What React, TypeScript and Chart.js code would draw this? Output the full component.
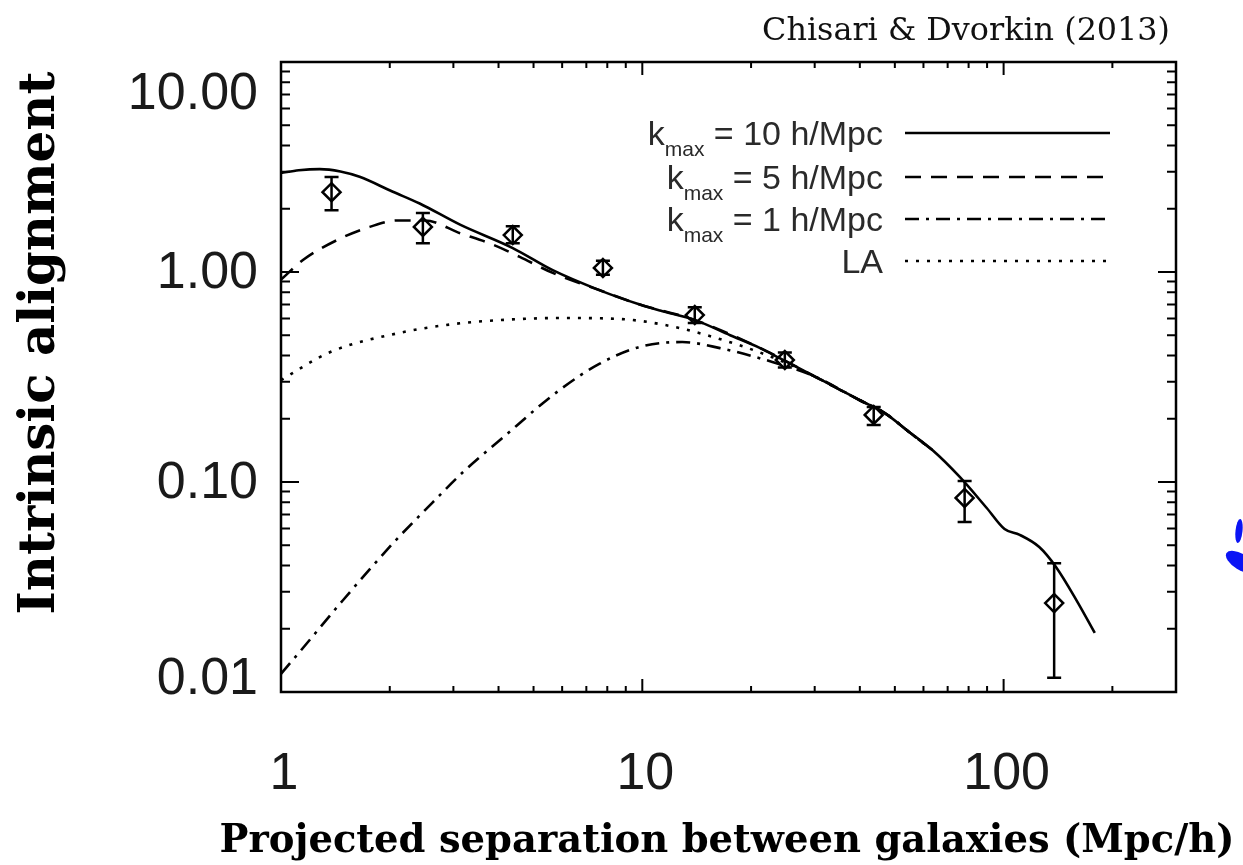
import React, { useEffect, useRef } from 'react';
import { Chart, registerables } from 'chart.js';

Chart.register(...registerables);

const W = 1243;
const H = 865;

// Measured intrinsic alignment signal (diamonds) with error bars
const obsR = [1.38, 2.47, 4.38, 7.78, 13.97, 24.8, 43.7, 78.0, 138];
const obsW = [2.4, 1.64, 1.5, 1.045, 0.624, 0.381, 0.2085, 0.084, 0.0265];
const obsHi = [2.83, 1.91, 1.65, 1.13, 0.68, 0.414, 0.2275, 0.101, 0.041];
const obsLo = [1.97, 1.37, 1.37, 0.97, 0.572, 0.351, 0.1868, 0.0645, 0.0117];

// Model with k_max = 10 h/Mpc
const k10R = [1.0, 1.12, 1.28, 1.46, 1.65, 2.04, 2.42, 3.13, 4.38, 5.65, 7.6, 9.84, 11.2, 14, 17.5, 21.2, 24, 30, 35, 40, 46.9, 55, 63.5, 75.5, 89.8, 100.6, 110.8, 125.5, 139.6, 159, 178.8];
const k10W = [2.96, 3.05, 3.09, 3.01, 2.84, 2.41, 2.12, 1.68, 1.3, 1.02, 0.82, 0.7, 0.655, 0.59, 0.5, 0.434, 0.389, 0.318, 0.277, 0.245, 0.213, 0.172, 0.142, 0.106, 0.0752, 0.0597, 0.056, 0.049, 0.0394, 0.0274, 0.0191];

// Model with k_max = 5 h/Mpc
const k5R = [1.0, 1.15, 1.43, 1.76, 2.1, 2.5, 3.13, 3.86, 4.58, 5.65, 7.6, 9.84, 14, 21.2, 30, 40, 46.9, 55, 63.5];
const k5W = [0.92, 1.14, 1.42, 1.64, 1.76, 1.76, 1.53, 1.35, 1.18, 0.99, 0.82, 0.7, 0.59, 0.434, 0.318, 0.245, 0.213, 0.172, 0.142];

// Model with k_max = 1 h/Mpc
const k1R = [1.0, 1.15, 1.48, 2.04, 2.63, 3.2, 4.03, 5.9, 7.6, 9.84, 12.9, 16.4, 22.9, 30, 40, 46.9, 55, 63.5];
const k1W = [0.0122, 0.0162, 0.0272, 0.051, 0.08, 0.112, 0.158, 0.274, 0.365, 0.44, 0.464, 0.434, 0.373, 0.318, 0.245, 0.213, 0.172, 0.142];

// Linear alignment model
const laR = [1.0, 1.37, 2.13, 3.0, 4.03, 5.9, 8.7, 11.2, 15.1, 22.9, 30, 40, 46.9, 55, 63.5];
const laW = [0.306, 0.416, 0.513, 0.565, 0.59, 0.604, 0.597, 0.565, 0.5, 0.393, 0.318, 0.245, 0.213, 0.172, 0.142];

const xTickValues = [1, 10, 100];
const xTickLabels = ['1', '10', '100'];
const yTickValues = [0.01, 0.1, 1, 10];
const yTickLabels = ['0.01', '0.10', '1.00', '10.00'];

const legendHasK = [true, true, true, false];
const legendNames = ['= 10 h/Mpc', '= 5 h/Mpc', '= 1 h/Mpc', 'LA'];

const xTitle = 'Projected separation between galaxies (Mpc/h)';
const yTitle = 'Intrinsic alignment';
const credit = 'Chisari & Dvorkin (2013)';

const pts = (xs: number[], ys: number[]) => xs.map((x, i) => ({ x, y: ys[i] }));

const SANS = '"Liberation Sans", Arial, sans-serif';
const SERIF = '"DejaVu Serif", serif';

function fitFont(ctx: CanvasRenderingContext2D, text: string, weight: string, family: string, width: number) {
  ctx.font = `${weight} 100px ${family}`;
  const w = ctx.measureText(text).width;
  return (100 * width) / w;
}

const decorPlugin = {
  id: 'decor',
  beforeDraw(chart: any) {
    const ctx = chart.ctx;
    ctx.save();
    ctx.fillStyle = '#ffffff';
    ctx.fillRect(0, 0, chart.width, chart.height);
    ctx.restore();
  },
  afterDatasetsDraw(chart: any) {
    const ctx: CanvasRenderingContext2D = chart.ctx;
    const xs = chart.scales.x;
    const ys = chart.scales.y;
    ctx.save();
    ctx.strokeStyle = '#000';
    ctx.lineWidth = 2.5;
    ctx.setLineDash([]);
    obsR.forEach((r, i) => {
      const px = xs.getPixelForValue(r);
      const yTop = ys.getPixelForValue(obsHi[i]);
      const yBot = ys.getPixelForValue(obsLo[i]);
      ctx.beginPath();
      ctx.moveTo(px, yTop);
      ctx.lineTo(px, yBot);
      ctx.moveTo(px - 7, yTop);
      ctx.lineTo(px + 7, yTop);
      ctx.moveTo(px - 7, yBot);
      ctx.lineTo(px + 7, yBot);
      ctx.stroke();
    });
    ctx.restore();
  },
  afterDraw(chart: any) {
    const ctx: CanvasRenderingContext2D = chart.ctx;
    const xs = chart.scales.x;
    const ys = chart.scales.y;
    const a = chart.chartArea;
    ctx.save();
    ctx.setLineDash([]);
    ctx.strokeStyle = '#000';

    // frame
    ctx.lineWidth = 2.5;
    ctx.strokeRect(a.left, a.top, a.right - a.left, a.bottom - a.top);

    // inward ticks on all four sides
    ctx.lineWidth = 2;
    ctx.beginPath();
    for (const d of [1, 10, 100]) {
      for (let m = 1; m <= 9; m++) {
        const v = m * d;
        if (v > xs.max) continue;
        const px = xs.getPixelForValue(v);
        const len = m === 1 ? 13 : 6;
        ctx.moveTo(px, a.bottom);
        ctx.lineTo(px, a.bottom - len);
        ctx.moveTo(px, a.top);
        ctx.lineTo(px, a.top + len);
      }
    }
    for (const d of [0.01, 0.1, 1, 10]) {
      for (let m = 1; m <= 9; m++) {
        const v = m * d;
        if (v > ys.max * 1.0001) continue;
        const py = ys.getPixelForValue(v);
        const len = m === 1 ? 18 : 9;
        ctx.moveTo(a.left, py);
        ctx.lineTo(a.left + len, py);
        ctx.moveTo(a.right, py);
        ctx.lineTo(a.right - len, py);
      }
    }
    ctx.stroke();

    // tick labels
    ctx.fillStyle = '#1a1a1a';
    ctx.font = `52px ${SANS}`;
    ctx.textAlign = 'center';
    ctx.textBaseline = 'alphabetic';
    xTickValues.forEach((v, i) => {
      ctx.fillText(xTickLabels[i], xs.getPixelForValue(v) + 3, a.bottom + 97);
    });
    ctx.textAlign = 'right';
    ctx.textBaseline = 'middle';
    yTickValues.forEach((v, i) => {
      const py = Math.min(Math.max(ys.getPixelForValue(v), a.top + 31), a.bottom - 14);
      ctx.fillText(yTickLabels[i], a.left - 23, py + 2);
    });

    // legend
    const rowBase = [145, 189, 231, 273];
    const datasets = chart.data.datasets.slice(1);
    datasets.forEach((ds: any, i: number) => {
      const base = rowBase[i];
      ctx.fillStyle = '#2a2a2a';
      ctx.textBaseline = 'alphabetic';
      ctx.textAlign = 'left';
      ctx.font = `34px ${SANS}`;
      const main = ' ' + legendNames[i];
      if (legendHasK[i]) {
        const wMain = ctx.measureText(main).width;
        const wK = ctx.measureText('k').width;
        ctx.font = `21px ${SANS}`;
        const wSub = ctx.measureText('max').width;
        let x = 883 - wMain - wK - wSub;
        ctx.font = `34px ${SANS}`;
        ctx.fillText('k', x, base);
        x += wK;
        ctx.font = `21px ${SANS}`;
        ctx.fillText('max', x, base + 11);
        x += wSub;
        ctx.font = `34px ${SANS}`;
        ctx.fillText(main, x, base);
      } else {
        ctx.textAlign = 'right';
        ctx.fillText(legendNames[i], 883, base);
      }
      const ly = base - 12;
      ctx.strokeStyle = '#000';
      ctx.lineWidth = ds.borderWidth;
      ctx.setLineDash(ds.borderDash || []);
      ctx.beginPath();
      ctx.moveTo(905, ly);
      ctx.lineTo(1110, ly);
      ctx.stroke();
    });
    ctx.setLineDash([]);

    // axis titles
    ctx.fillStyle = '#000';
    ctx.textAlign = 'center';
    ctx.textBaseline = 'alphabetic';
    const xs2 = fitFont(ctx, xTitle, 'bold', SERIF, 1015);
    ctx.font = `bold ${xs2}px ${SERIF}`;
    ctx.fillText(xTitle, 727, 852);

    const ys2 = fitFont(ctx, yTitle, 'bold', SERIF, 543);
    ctx.save();
    ctx.translate(54, 343);
    ctx.rotate(-Math.PI / 2);
    ctx.font = `bold ${ys2}px ${SERIF}`;
    ctx.fillText(yTitle, 0, 0);
    ctx.restore();

    // credit line
    const cs = fitFont(ctx, credit, 'normal', SERIF, 408);
    ctx.font = `${cs}px ${SERIF}`;
    ctx.textAlign = 'right';
    ctx.fillStyle = '#111';
    ctx.fillText(credit, 1170, 40);

    // blue fragment at the right edge
    ctx.fillStyle = '#0b14f5';
    ctx.beginPath();
    ctx.ellipse(1239, 531, 3.5, 12, 0.1, 0, Math.PI * 2);
    ctx.fill();
    ctx.beginPath();
    ctx.ellipse(1241, 562, 17, 8, 0.55, 0, Math.PI * 2);
    ctx.fill();

    ctx.restore();
  },
};

export default function App() {
  const canvasRef = useRef<HTMLCanvasElement | null>(null);

  useEffect(() => {
    const prevMargin = document.body.style.margin;
    document.body.style.margin = '0';
    const canvas = canvasRef.current;
    if (!canvas) return;

    const lineBase = {
      showLine: true,
      pointRadius: 0,
      borderColor: '#000',
      backgroundColor: '#000',
      borderWidth: 2.6,
      cubicInterpolationMode: 'monotone' as const,
      fill: false,
    };

    const chart = new Chart(canvas, {
      type: 'scatter',
      data: {
        datasets: [
          {
            label: 'data',
            data: pts(obsR, obsW),
            showLine: false,
            pointStyle: 'rectRot',
            pointRadius: 9,
            borderColor: '#000',
            borderWidth: 2.5,
            backgroundColor: 'rgba(0,0,0,0)',
          },
          { ...lineBase, label: 'kmax = 10 h/Mpc', data: pts(k10R, k10W), borderDash: [] },
          { ...lineBase, label: 'kmax = 5 h/Mpc', data: pts(k5R, k5W), borderDash: [16, 10] },
          { ...lineBase, label: 'kmax = 1 h/Mpc', data: pts(k1R, k1W), borderDash: [14, 7, 3, 7] },
          { ...lineBase, label: 'LA', data: pts(laR, laW), borderDash: [3, 8] },
        ],
      },
      options: {
        animation: false,
        responsive: false,
        maintainAspectRatio: false,
        devicePixelRatio: 1,
        layout: { padding: { left: 281, top: 62, right: 67, bottom: 173 } },
        plugins: { legend: { display: false }, tooltip: { enabled: false }, title: { display: false } },
        scales: {
          x: { type: 'logarithmic', min: 1, max: 300, display: false },
          y: { type: 'logarithmic', min: 0.01, max: 10, display: false },
        },
      },
      plugins: [decorPlugin],
    });

    return () => {
      chart.destroy();
      document.body.style.margin = prevMargin;
    };
  }, []);

  return (
    <div style={{ position: 'absolute', left: 0, top: 0, width: W, height: H, background: '#fff' }}>
      <canvas ref={canvasRef} width={W} height={H} style={{ width: W, height: H, display: 'block' }} />
    </div>
  );
}
